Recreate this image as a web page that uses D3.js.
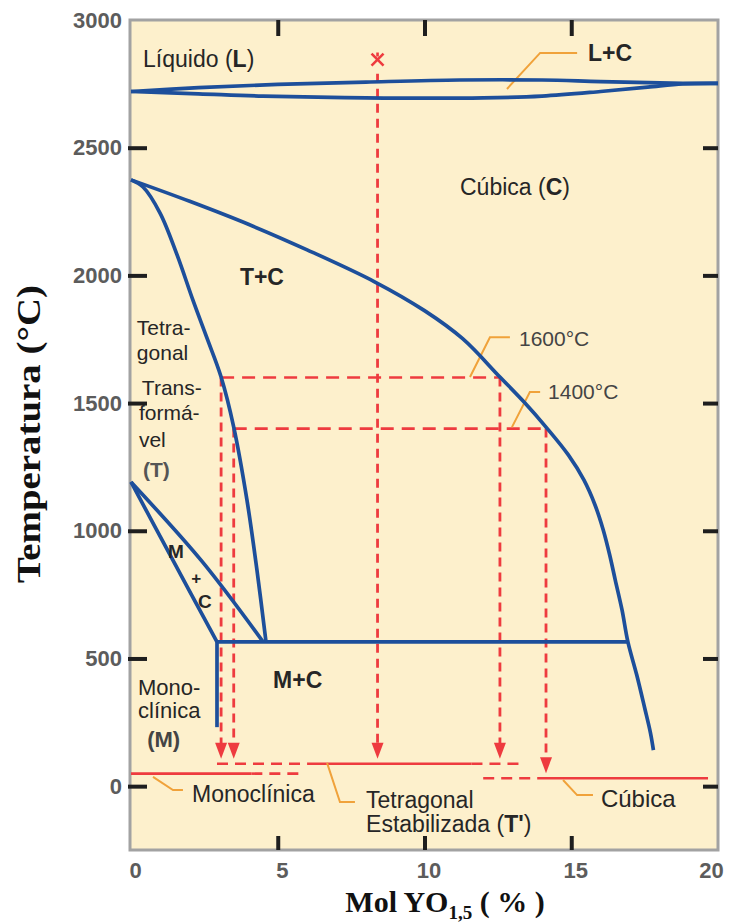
<!DOCTYPE html>
<html>
<head>
<meta charset="utf-8">
<script src="https://cdn.jsdelivr.net/npm/d3@7"></script>
<style>
  body { margin: 0; background: #fff; }
  svg { display: block; }
</style>
</head>
<body>
<svg id="chart" width="731" height="924"></svg>
<script>
// ZrO2–YO1.5 phase diagram: composition in mol % YO1.5, temperature in °C

// Phase boundaries, [mol % YO1.5, °C]
const liquidus = [[0, 2720], [2.3, 2735], [5, 2748], [8, 2757], [11.2, 2765], [14, 2765], [16, 2759], [18.8, 2752], [20, 2752]];
const solidus = [[0, 2720], [2.3, 2711], [4.5, 2702], [8, 2695], [12, 2695], [14, 2702], [16, 2720], [17.6, 2737], [18.8, 2750], [20, 2752]];
const cubicBoundary = [[0, 2374], [2, 2290], [4, 2200], [6, 2100], [8.3, 1975], [10, 1862], [11.3, 1752], [12.57, 1602], [13.4, 1503], [14.14, 1406], [14.9, 1297], [15.43, 1199], [15.81, 1101], [16.09, 1003], [16.31, 905], [16.5, 807], [16.73, 690], [16.93, 565], [17.23, 436], [17.5, 307], [17.7, 208], [17.8, 141]];
const tetragonalBoundary = [[0, 2374], [0.41, 2346], [0.99, 2244], [1.57, 2080], [2.11, 1903], [2.59, 1754], [3.07, 1602], [3.5, 1406], [3.95, 1121], [4.29, 847], [4.6, 565]];
const lensUpper = [[0, 1191], [2.42, 880], [4.5, 565]];
const lensLower = [[0, 1191], [1.45, 880], [2.93, 565]];
const monoclinicEdge = [[2.93, 565], [2.93, 231]];
const eutectoid = [[2.93, 565], [16.93, 565]];

// Axis ticks
const xTicks = [0, 5, 10, 15, 20];
const yTicks = [0, 500, 1000, 1500, 2000, 2500, 3000];
const yInnerTicks = [0, 500, 1000, 1500, 2000, 2500];
const xInnerTicks = [5, 10, 15];

// Worked example: cooling paths from the cubic melt and the 1600/1400 °C isotherms
const startPoint = [8.4, 2845];
const roomMono = 49;   // room-temperature monoclinic band
const roomTetra = 88;  // stabilized tetragonal band
const roomCubic = 31;  // cubic band
const isotherms = [
  { T: 1600, from: 3.07, to: 12.57 },
  { T: 1400, from: 3.5, to: 14.14 }
];
const drops = [
  { x: 8.4, from: 2790, to: roomTetra },
  { x: 3.07, from: 1600, to: roomTetra },
  { x: 3.5, from: 1400, to: roomTetra },
  { x: 12.57, from: 1600, to: roomTetra },
  { x: 14.14, from: 1400, to: roomCubic }
];
const roomSolid = [
  { T: roomMono, from: 0, to: 4.1 },
  { T: roomTetra, from: 6.0, to: 11.6 },
  { T: roomCubic, from: 14.14, to: 19.66 }
];
const roomDashed = [
  { T: roomMono, from: 4.1, to: 5.8 },
  { T: roomTetra, from: 2.93, to: 6.0 },
  { T: roomTetra, from: 11.6, to: 13.25 },
  { T: roomCubic, from: 12.0, to: 14.14 }
];

// Callout leaders, [mol %, °C]
const leaders = [
  [[15.2, 2871], [13.94, 2871], [12.81, 2730]],
  [[12.91, 1758], [12.23, 1758], [11.55, 1602]],
  [[13.94, 1543], [13.59, 1543], [12.98, 1406]],
  [[0.75, 36], [1.43, -15], [1.77, -15]],
  [[6.68, 91], [7.12, -62], [7.63, -62]],
  [[14.72, 24], [15.2, -35], [15.74, -35]]
];

// Region labels: text pieces ([text, bold]), anchor in data units, font size
const labels = [
  { parts: [["Líquido ", false], ["(", false], ["L", true], [")", false]], x: 0.41, T: 2816, size: 23 },
  { parts: [["L+C", true]], x: 15.57, T: 2840, size: 23 },
  { parts: [["Cúbica ", false], ["(", false], ["C", true], [")", false]], x: 11.21, T: 2315, size: 23 },
  { parts: [["T+C", true]], x: 3.71, T: 1962, size: 23 },
  { parts: [["Tetra-", false]], x: 0.2, T: 1767, size: 21 },
  { parts: [["gonal", false]], x: 0.2, T: 1669, size: 21 },
  { parts: [["Trans-", false]], x: 0.37, T: 1532, size: 21 },
  { parts: [["formá-", false]], x: 0.27, T: 1434, size: 21 },
  { parts: [["vel", false]], x: 0.27, T: 1328, size: 21 },
  { parts: [["(T)", true]], x: 0.41, T: 1211, size: 21, color: "#555" },
  { parts: [["1600°C", false]], x: 13.22, T: 1724, size: 21, color: "#444" },
  { parts: [["1400°C", false]], x: 14.21, T: 1517, size: 21, color: "#444" },
  { parts: [["M", true]], x: 1.26, T: 894, size: 19 },
  { parts: [["+", true]], x: 2.05, T: 793, size: 17 },
  { parts: [["C", true]], x: 2.28, T: 698, size: 19 },
  { parts: [["Mono-", false]], x: 0.24, T: 358, size: 22 },
  { parts: [["clínica", false]], x: 0.24, T: 268, size: 22 },
  { parts: [["(M)", true]], x: 0.55, T: 154, size: 22, color: "#444" },
  { parts: [["M+C", true]], x: 4.84, T: 385, size: 23 },
  { parts: [["Monoclínica", false]], x: 2.08, T: -61, size: 23 },
  { parts: [["Tetragonal", false]], x: 8.01, T: -85, size: 23 },
  { parts: [["Estabilizada", false], [" (", false], ["T'", true], [")", false]], x: 8.01, T: -179, size: 23 },
  { parts: [["Cúbica", false]], x: 16.01, T: -81, size: 24 }
];

// ---- drawing ----
const BLUE = "#1d4f9b";
const RED = "#ee3b3f";
const ORANGE = "#f0a23a";
const TEXT = "#262626";
const SANS = "'Liberation Sans', Arial, Helvetica, sans-serif";
const SERIF = "'Liberation Serif', 'Times New Roman', serif";

const svg = d3.select("#chart");
const x = d3.scaleLinear().domain([0, 20]).range([131, 718]);
const y = d3.scaleLinear().domain([-250, 3000]).range([850, 20]);

// plot panel
svg.append("rect")
  .attr("x", x(0) - 1).attr("y", y(3000))
  .attr("width", x(20) - x(0) + 1).attr("height", y(-250) - y(3000))
  .attr("fill", "#fdf0cc")
  .attr("stroke", "#a2a2a2").attr("stroke-width", 3);

const line = d3.line().x(d => x(d[0])).y(d => y(d[1]));
const smooth = d3.line().x(d => x(d[0])).y(d => y(d[1])).curve(d3.curveCatmullRom.alpha(0.5));

// red example paths
const red = svg.append("g").attr("stroke", RED).attr("fill", "none");
isotherms.forEach(s => {
  red.append("path").attr("d", line([[s.from, s.T], [s.to, s.T]]))
    .attr("stroke-width", 2.6).attr("stroke-dasharray", "13,8");
});
drops.forEach(s => {
  const tip = y(s.to) - 5;
  red.append("line")
    .attr("x1", x(s.x)).attr("x2", x(s.x))
    .attr("y1", y(s.from)).attr("y2", tip - 10)
    .attr("stroke-width", 2.8).attr("stroke-dasharray", "9,6");
  red.append("path")
    .attr("d", `M${x(s.x) - 6},${tip - 16}L${x(s.x) + 6},${tip - 16}L${x(s.x)},${tip}Z`)
    .attr("fill", RED).attr("stroke", "none");
});
roomSolid.forEach(s => {
  red.append("path").attr("d", line([[s.from, s.T], [s.to, s.T]])).attr("stroke-width", 2.6);
});
roomDashed.forEach(s => {
  red.append("path").attr("d", line([[s.from, s.T], [s.to, s.T]]))
    .attr("stroke-width", 2.6).attr("stroke-dasharray", "11,7");
});
// start point marker
const [sx, sT] = startPoint;
red.append("path")
  .attr("d", `M${x(sx) - 6},${y(sT) - 6}L${x(sx) + 6},${y(sT) + 6}M${x(sx) + 6},${y(sT) - 6}L${x(sx) - 6},${y(sT) + 6}M${x(sx)},${y(sT) - 7}L${x(sx)},${y(sT) - 3}`)
  .attr("stroke-width", 2.6);

// orange callout leaders
svg.append("g").selectAll("path").data(leaders).join("path")
  .attr("d", line).attr("fill", "none")
  .attr("stroke", ORANGE).attr("stroke-width", 2);

// blue phase boundaries
const blue = svg.append("g").attr("fill", "none").attr("stroke", BLUE)
  .attr("stroke-width", 3.7).attr("stroke-linejoin", "round");
[liquidus, solidus, cubicBoundary, tetragonalBoundary, lensUpper, lensLower].forEach(d => {
  blue.append("path").attr("d", smooth(d));
});
[monoclinicEdge, eutectoid].forEach(d => blue.append("path").attr("d", line(d)));

// axes
function styleTicks(g) {
  g.select(".domain").remove();
  g.selectAll(".tick line").attr("stroke", "#1e1e1e").attr("stroke-width", 4);
}
const gy = svg.append("g").attr("transform", `translate(${x(0)},0)`)
  .call(d3.axisLeft(y).tickValues(yTicks).tickSize(-16).tickPadding(9).tickFormat(d3.format("d")));
styleTicks(gy);
gy.selectAll(".tick line").attr("x1", -3).filter(d => d === 3000).remove();
gy.selectAll(".tick text").attr("font-family", SANS).attr("font-size", 22)
  .attr("font-weight", "bold").attr("fill", "#5c5c5c");

const gr = svg.append("g").attr("transform", `translate(${x(20)},0)`)
  .call(d3.axisRight(y).tickValues(yInnerTicks).tickSize(-15).tickFormat(""));
styleTicks(gr);

const gt = svg.append("g").attr("transform", `translate(0,${y(3000)})`)
  .call(d3.axisTop(x).tickValues(xInnerTicks).tickSize(-16).tickFormat(""));
styleTicks(gt);

const gb = svg.append("g").attr("transform", `translate(0,${y(-250)})`)
  .call(d3.axisBottom(x).tickValues(xTicks).tickSize(-14).tickPadding(12).tickFormat(d3.format("d")));
styleTicks(gb);
gb.selectAll(".tick line").filter(d => d === 0 || d === 20).remove();
gb.selectAll(".tick text").attr("font-family", SANS).attr("font-size", 22)
  .attr("font-weight", "bold").attr("fill", "#5c5c5c")
  .attr("dx", d => d === 0 ? 4 : d === 20 ? -7 : 4);

// region labels
labels.forEach(l => {
  const t = svg.append("text")
    .attr("x", x(l.x)).attr("y", y(l.T))
    .attr("font-family", SANS).attr("font-size", l.size)
    .attr("fill", l.color || TEXT);
  l.parts.forEach(([s, b]) => {
    t.append("tspan").text(s).attr("font-weight", b ? "bold" : "normal");
  });
});

// axis titles
svg.append("text")
  .attr("transform", "translate(40,434) rotate(-90)")
  .attr("text-anchor", "middle")
  .attr("font-family", SERIF).attr("font-weight", "bold").attr("font-size", 34)
  .attr("textLength", 298).attr("lengthAdjust", "spacingAndGlyphs")
  .attr("fill", "#111")
  .text("Temperatura (°C)");

const xt = svg.append("text")
  .attr("x", 445).attr("y", 912)
  .attr("text-anchor", "middle")
  .attr("font-family", SERIF).attr("font-weight", "bold").attr("font-size", 30)
  .attr("fill", "#111");
xt.append("tspan").text("Mol YO");
xt.append("tspan").text("1,5").attr("font-size", 19).attr("dy", 7);
xt.append("tspan").text(" ( % )").attr("dy", -7);
</script>
</body>
</html>
